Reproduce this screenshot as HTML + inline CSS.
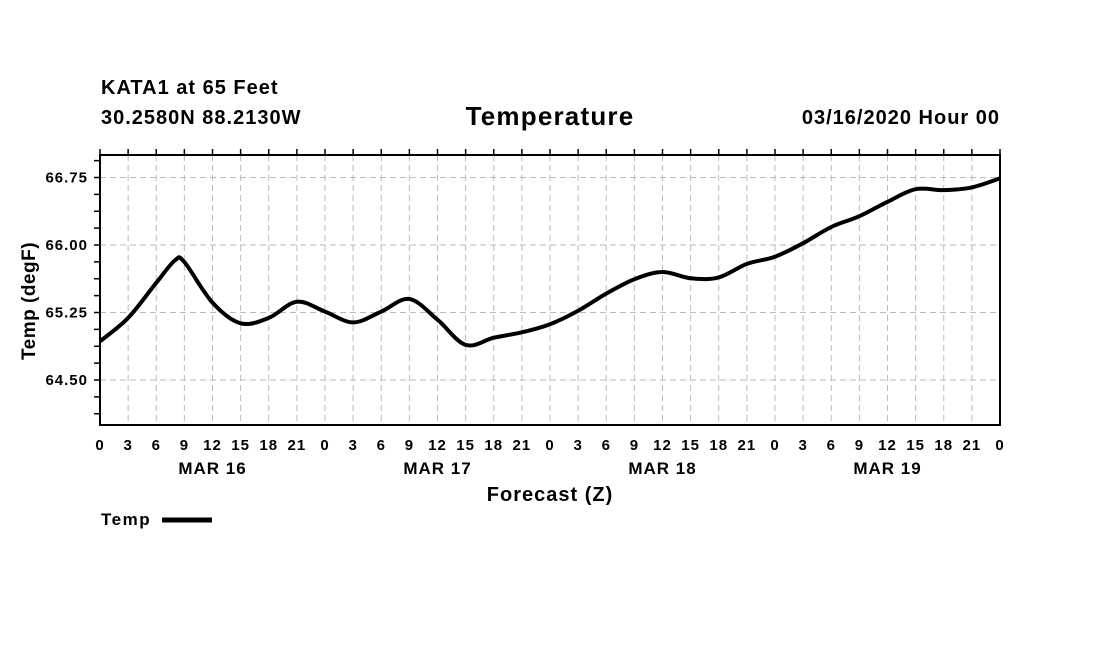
<!DOCTYPE html>
<html><head><meta charset="utf-8"><style>
body{margin:0;background:#fff;width:1100px;height:650px;overflow:hidden}
svg text{font-family:"Liberation Sans",Arial,sans-serif;font-weight:bold;fill:#000}
</style></head><body>
<svg id="chart" width="1100" height="650" xmlns="http://www.w3.org/2000/svg">
<text x="101" y="94" font-size="20" letter-spacing="1">KATA1 at 65 Feet</text>
<text x="101" y="124" font-size="20" letter-spacing="1">30.2580N 88.2130W</text>
<text x="550" y="125" font-size="26" letter-spacing="1.2" text-anchor="middle">Temperature</text>
<text x="1000" y="124" font-size="20" letter-spacing="1" text-anchor="end">03/16/2020 Hour 00</text>
<g id="grid"></g>
<g id="axes"></g>
<path id="line" fill="none" stroke="#000" stroke-width="4" stroke-linejoin="round"/>
<rect x="100" y="155" width="900" height="270" fill="none" stroke="#000" stroke-width="2"/>
<text x="550" y="501" font-size="20" letter-spacing="1" text-anchor="middle">Forecast (Z)</text>
<text transform="translate(35,301) rotate(-90)" font-size="19" letter-spacing="0.5" text-anchor="middle">Temp (degF)</text>
<text x="101" y="525" font-size="17" letter-spacing="1.5">Temp</text>
<line x1="162" y1="520" x2="212" y2="520" stroke="#000" stroke-width="5"/>
</svg>
<script>
const hours=[0,3,6,8,9,12,15,18,21,24,27,30,33,36,39,42,45,48,51,54,57,60,63,66,69,72,75,78,81,84,87,90,93,96];
const temps=[64.93,65.19,65.58,65.83,65.81,65.36,65.13,65.19,65.37,65.26,65.14,65.26,65.40,65.17,64.89,64.97,65.03,65.12,65.27,65.46,65.62,65.70,65.63,65.64,65.79,65.87,66.02,66.20,66.32,66.48,66.62,66.61,66.64,66.74];
const yTicks=[64.50,65.25,66.00,66.75];
const xTickLabels=["0","3","6","9","12","15","18","21"];
const dayLabels=["MAR 16","MAR 17","MAR 18","MAR 19"];
const X=h=>100+h*900/96, Y=v=>155+(67-v)*90;
const ns="http://www.w3.org/2000/svg";
const grid=document.getElementById('grid'), axes=document.getElementById('axes');
function mk(tag,attrs,parent){const e=document.createElementNS(ns,tag);for(const k in attrs)e.setAttribute(k,attrs[k]);parent.appendChild(e);return e;}
for(let h=3;h<96;h+=3){
 const g=mk('line',{x1:X(h),x2:X(h),y1:155,y2:425,stroke:'#bbb','stroke-dasharray':'6,4'},grid);
 
 
}
for(let h=0;h<=96;h+=3){
 const t=mk('line',{x1:X(h),x2:X(h),y1:149,y2:155,stroke:'#000','stroke-width':1.5},axes);
 
 
 const l=mk('text',{x:X(h),y:450,'font-size':15,'letter-spacing':1,'text-anchor':'middle'},axes);
 l.textContent=xTickLabels[(h/3)%8];
 
 
}
dayLabels.forEach((d,i)=>{
 const l=mk('text',{x:X(12+24*i),y:474,'font-size':17,'letter-spacing':1,'text-anchor':'middle'},axes);
 l.textContent=d;
 
 
});
yTicks.forEach(v=>{
 const g=mk('line',{x1:100,x2:1000,y1:Y(v),y2:Y(v),stroke:'#bbb','stroke-dasharray':'6,4'},grid);
 
 
 const l=mk('text',{x:88,y:Y(v)+5,'font-size':15,'letter-spacing':1,'text-anchor':'end'},axes);
 l.textContent=v.toFixed(2);
 
 
});
for(let v=64.125;v<=67;v+=0.1875){
 const t=mk('line',{x1:94,x2:100,y1:Y(v),y2:Y(v),stroke:'#000','stroke-width':1.5},axes);
 
 
}
const pts=hours.map((h,i)=>[X(h),Y(temps[i])]);
let d='M'+pts[0][0]+','+pts[0][1];
for(let i=0;i<pts.length-1;i++){
 const p0=pts[Math.max(0,i-1)],p1=pts[i],p2=pts[i+1],p3=pts[Math.min(pts.length-1,i+2)];
 const c1=[p1[0]+(p2[0]-p0[0])/6,p1[1]+(p2[1]-p0[1])/6];
 const c2=[p2[0]-(p3[0]-p1[0])/6,p2[1]-(p3[1]-p1[1])/6];
 d+=` C${c1[0]},${c1[1]} ${c2[0]},${c2[1]} ${p2[0]},${p2[1]}`;
}
document.getElementById('line').setAttribute('d',d);
</script>
</body></html>
